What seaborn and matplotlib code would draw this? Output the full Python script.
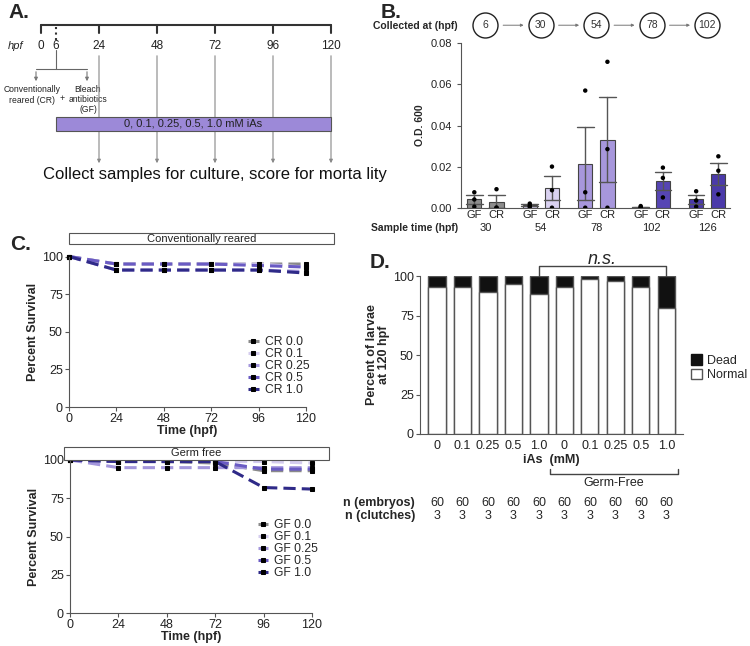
import pandas as pd
import matplotlib.pyplot as plt
import seaborn as sns
from matplotlib.patches import Rectangle, Patch
from matplotlib.container import BarContainer

W, H = 750, 646

# ---- A: experiment schedule (hpf) ----
tick_hpf = [0, 6, 24, 48, 72, 96, 120]
collect_hpf = [24, 48, 72, 96, 120]
split_hpf = 6
dose_text = "0, 0.1, 0.25, 0.5, 1.0 mM iAs"

# ---- B: O.D. 600 of cultures (3 replicates) ----
sample_times = ["30", "54", "78", "102", "126"]
collected_at = ["6", "30", "54", "78", "102"]
od_gf = [[0.0075, 0.0040, 0.0005], [0.0020, 0.0010, 0.0003], [0.0570, 0.0075, 0.0],
         [0.0008, 0.0002, 0.0], [0.0080, 0.0035, 0.0005]]
od_cr = [[0.0090, 0.0, 0.0], [0.0200, 0.0085, 0.0], [0.0710, 0.0285, 0.0],
         [0.0195, 0.0145, 0.0050], [0.0250, 0.0180, 0.0065]]
od_colors = ["#8d8d8d", "#d9d1f0", "#a797dc", "#5645b4", "#4b3aaa"]

# ---- C: survival curves ----
hours = [0, 24, 48, 72, 96, 120]
doses = ["0.0", "0.1", "0.25", "0.5", "1.0"]
cr_surv = [[100, 95, 95, 95, 95, 95],
           [100, 95, 95, 95, 95, 93],
           [100, 91, 91, 91, 91, 90],
           [100, 95, 95, 95, 94, 93],
           [100, 91, 91, 91, 91, 89]]
gf_surv = [[100, 99, 99, 98, 93, 93],
           [100, 99, 99, 99, 99, 98],
           [100, 95, 95, 95, 95, 95],
           [100, 99, 99, 99, 94, 94],
           [100, 99, 99, 99, 82, 81]]
dose_colors = ["#8a8a8a", "#d4ccee", "#a497dc", "#6a5bc4", "#2f2a88"]

# ---- D: outcome at 120 hpf ----
d_doses = ["0", "0.1", "0.25", "0.5", "1.0", "0", "0.1", "0.25", "0.5", "1.0"]
d_groups = ["CR"] * 5 + ["GF"] * 5
pct_normal = [93.3, 93.3, 90.0, 95.0, 88.3, 93.3, 98.3, 96.7, 93.3, 80.0]
n_embryos = [60] * 10
n_clutches = [3] * 10

sns.set_style("ticks")
plt.rcParams["font.family"] = ["Liberation Sans", "DejaVu Sans"]
plt.rcParams["axes.edgecolor"] = "#555555"
plt.rcParams["xtick.color"] = "#555555"
plt.rcParams["ytick.color"] = "#555555"
plt.rcParams["xtick.labelcolor"] = "#222222"
plt.rcParams["ytick.labelcolor"] = "#222222"

fig = plt.figure(figsize=(7.5, 6.46), dpi=100)


def px_axes(l, t, r, b):
    return fig.add_axes([l / W, 1 - b / H, (r - l) / W, (b - t) / H])


def fx(x):
    return x / W


def fy(y):
    return 1 - y / H


# panel letters
for lab, x, y in [("A.", 8, 12), ("B.", 381, 12), ("C.", 10, 245), ("D.", 370, 262)]:
    fig.text(fx(x), fy(y), lab, fontsize=15, fontweight="bold", va="center")

# ================= A =================
axA = px_axes(0, 0, 380, 200)
axA.axis("off")
k = (331 - 41) / 120
axA.set_xlim(-41 / k, (380 - 41) / k)
axA.set_ylim(200, 0)
line_c = "#333333"
axA.plot([tick_hpf[0], tick_hpf[-1]], [25, 25], color=line_c, lw=1.5)
for t in tick_hpf:
    if t == split_hpf:
        axA.plot([t, t], [27, 42], color=line_c, lw=1.5, ls=":")
    else:
        axA.plot([t, t], [25, 33], color=line_c, lw=1.5)
    axA.text(t, 46, str(t), ha="center", va="center", fontsize=8.5, color="#222")
axA.text(-41 / k + 8 / k, 46, "hpf", ha="left", va="center", fontsize=8, style="italic")
# split into CR / GF
xl, xr = -5 / k, 46 / k
axA.plot([split_hpf, split_hpf], [50, 69], color="#666", lw=0.8)
axA.plot([xl, xr], [69, 69], color="#666", lw=0.8)
for xx in (xl, xr):
    axA.annotate("", xy=(xx, 84), xytext=(xx, 69),
                 arrowprops=dict(arrowstyle="-|>", color="#777", lw=0.8, mutation_scale=5))
axA.text(xl - 4 / k, 85, "Conventionally\nreared (CR)", ha="center", va="top", fontsize=6.2,
         linespacing=1.25, color="#222")
axA.text(xr + 1 / k, 85, "Bleach\nantibiotics\n(GF)", ha="center", va="top", fontsize=6.2,
         linespacing=1.15, color="#222")
axA.text(21 / k, 99, "+", ha="center", va="center", fontsize=6.2, color="#222")
for t in collect_hpf:
    axA.annotate("", xy=(t, 166), xytext=(t, 53),
                 arrowprops=dict(arrowstyle="-|>", color="#888", lw=0.8, mutation_scale=5))
axA.add_patch(Rectangle((split_hpf, 117), tick_hpf[-1] - split_hpf, 14, fc="#9c89d8",
                        ec="#555", lw=0.8, zorder=5))
axA.text((split_hpf + tick_hpf[-1]) / 2, 124, dose_text, ha="center", va="center",
         fontsize=8, color="#222", zorder=6)
axA.text(72, 174, "Collect samples for culture, score for morta lity", ha="center",
         va="center", fontsize=12, color="#111")

# ================= B =================
rows = []
for t, g, c in zip(sample_times, od_gf, od_cr):
    rows += [(t, "GF", v) for v in g]
    rows += [(t, "CR", v) for v in c]
od_df = pd.DataFrame(rows, columns=["time", "cond", "od"])

axB = px_axes(461, 43.3, 730, 207.7)
sns.barplot(data=od_df, x="time", y="od", hue="cond", order=sample_times,
            hue_order=["GF", "CR"], errorbar="se", capsize=0.6, gap=0.36,
            palette=["#888", "#888"], edgecolor="#444", linewidth=0.8,
            err_kws={"color": "#555", "linewidth": 1}, legend=False, ax=axB)
for cont in axB.containers:
    if isinstance(cont, BarContainer):
        for j, bar in enumerate(cont):
            bar.set_facecolor(od_colors[j])
sns.stripplot(data=od_df, x="time", y="od", hue="cond", order=sample_times,
              hue_order=["GF", "CR"], dodge=True, jitter=False, palette=["k", "k"],
              size=3.2, legend=False, ax=axB, zorder=5)
centers = sorted(b.get_x() + b.get_width() / 2 for cont in axB.containers
                 if isinstance(cont, BarContainer) for b in cont)
axB.set_xticks(centers, labels=["GF", "CR"] * len(sample_times))
axB.set_xticks(range(len(sample_times)), labels=sample_times, minor=True)
axB.tick_params(axis="x", which="major", length=0, pad=1.5, labelsize=8)
axB.tick_params(axis="x", which="minor", length=0, pad=11, labelsize=8)
axB.set_xlim(-0.44, 4.41)
axB.set_ylim(0, 0.08)
axB.set_yticks([0, 0.02, 0.04, 0.06, 0.08], labels=["0.00", "0.02", "0.04", "0.06", "0.08"])
axB.tick_params(axis="y", labelsize=8, length=3)
axB.set_xlabel("")
axB.set_ylabel("O.D. 600", fontsize=7.5, fontweight="bold", labelpad=4)
sns.despine(ax=axB)
xt = axB.get_xaxis_transform()
axB.plot(range(len(collected_at)), [1.11] * len(collected_at), "o", ms=18, mfc="white",
         mec="#222", mew=1, transform=xt, clip_on=False)
for i, lab in enumerate(collected_at):
    axB.text(i, 1.11, lab, transform=xt, ha="center", va="center", fontsize=7.5, color="#333")
    if i < len(collected_at) - 1:
        axB.annotate("", xy=(i + 0.74, 1.11), xytext=(i + 0.27, 1.11),
                     xycoords=xt, textcoords=xt,
                     arrowprops=dict(arrowstyle="-|>", color="#777", lw=0.7, mutation_scale=4))
fig.text(fx(458), fy(26), "Collected at (hpf)", ha="right", va="center", fontsize=7.5,
         fontweight="bold")
fig.text(fx(458), fy(228), "Sample time (hpf)", ha="right", va="center", fontsize=7.5,
         fontweight="bold")


# ================= C =================
def survival_panel(rect, box, title, prefix, series, anchor):
    ax = px_axes(*rect)
    rows = []
    for d, vals in zip(doses, series):
        rows += [(h, v, f"{prefix} {d}") for h, v in zip(hours, vals)]
    df = pd.DataFrame(rows, columns=["time", "surv", "group"])
    names = [f"{prefix} {d}" for d in doses]
    sns.lineplot(data=df, x="time", y="surv", hue="group", hue_order=names,
                 palette=dose_colors, linestyle=(0, (4, 2)), linewidth=2.2, marker="s",
                 markersize=3, legend=False, ax=ax, clip_on=False)
    for ln in ax.lines:
        ln.set_markerfacecolor("k")
        ln.set_markeredgecolor("k")
    ax.set_xlim(0, 120)
    ax.set_ylim(0, 100)
    ax.set_xticks(hours)
    ax.set_yticks([0, 25, 50, 75, 100])
    ax.tick_params(labelsize=9, length=3, pad=1.5)
    ax.set_xlabel("Time (hpf)", fontsize=9, fontweight="bold", labelpad=0)
    ax.set_ylabel("Percent Survival", fontsize=9, fontweight="bold", labelpad=2)
    sns.despine(ax=ax)
    ax.legend(handles=ax.lines[:5], labels=names, loc="lower left", bbox_to_anchor=anchor,
              frameon=False, fontsize=8.7, handlelength=0.9, handletextpad=0.5,
              labelspacing=0.0, borderpad=0, borderaxespad=0)
    l, t, r, b = box
    fig.add_artist(Rectangle((fx(l), fy(b)), (r - l) / W, (b - t) / H,
                             transform=fig.transFigure, fc="white", ec="#555", lw=0.8))
    fig.text(fx((l + r) / 2), fy((t + b) / 2), title, ha="center", va="center", fontsize=8,
             color="#222")
    return ax


survival_panel((69, 256.5, 306, 407), (69, 233, 334, 244), "Conventionally reared", "CR",
               cr_surv, (0.755, 0.07))
survival_panel((70, 460, 312, 613), (64, 447, 329, 460), "Germ free", "GF",
               gf_surv, (0.775, 0.22))

# ================= D =================
cond_ids = [f"{g} {d}" for g, d in zip(d_groups, d_doses)]
axD = px_axes(420, 276, 683, 434)
sns.barplot(x=cond_ids, y=[100] * len(cond_ids), color="#111111", width=0.67,
            edgecolor="#555", linewidth=1, ax=axD)
sns.barplot(x=cond_ids, y=pct_normal, color="white", width=0.67, edgecolor="#555",
            linewidth=1, ax=axD)
axD.set_xticks(range(len(cond_ids)), labels=d_doses)
axD.set_xlim(-0.667, 9.65)
axD.set_ylim(0, 100)
axD.set_yticks([0, 25, 50, 75, 100])
axD.tick_params(axis="x", length=0, pad=4, labelsize=9)
axD.tick_params(axis="y", length=3, pad=1.5, labelsize=9)
axD.set_xlabel("iAs  (mM)", fontsize=9, fontweight="bold", labelpad=2)
axD.set_ylabel("Percent of larvae\nat 120 hpf", fontsize=9, fontweight="bold", labelpad=2,
               linespacing=0.95)
sns.despine(ax=axD)
axD.legend(handles=[Patch(fc="#111", ec="#111"), Patch(fc="white", ec="#555")],
           labels=["Dead", "Normal"], loc="center left", bbox_to_anchor=(1.03, 0.42),
           frameon=False, fontsize=9, handlelength=0.9, handleheight=0.9,
           handletextpad=0.4, labelspacing=0.15, borderpad=0, borderaxespad=0)
xtD = axD.get_xaxis_transform()
gf_idx = [i for i, g in enumerate(d_groups) if g == "GF"]
i0, i1 = gf_idx[0] - 1, gf_idx[-1]
axD.plot([i0, i0, i1, i1], [1.0, 1.065, 1.065, 1.0], color="#444", lw=1, transform=xtD,
         clip_on=False)
axD.text((i0 + i1) / 2, 1.105, "n.s.", transform=xtD, ha="center", va="center",
         fontsize=13, style="italic")
gl, gr = gf_idx[0] - 0.55, gf_idx[-1] + 0.45
axD.plot([gl, gl, gr, gr], [-0.22, -0.253, -0.253, -0.22], color="#444", lw=1,
         transform=xtD, clip_on=False)
axD.text((gl + gr) / 2, -0.31, "Germ-Free", transform=xtD, ha="center", va="center",
         fontsize=9, color="#222")
for i in range(len(cond_ids)):
    axD.text(i, -0.437, str(n_embryos[i]), transform=xtD, ha="center", va="center", fontsize=9)
    axD.text(i, -0.519, str(n_clutches[i]), transform=xtD, ha="center", va="center", fontsize=9)
fig.text(fx(415), fy(503), "n (embryos)", ha="right", va="center", fontsize=9, fontweight="bold")
fig.text(fx(415), fy(516), "n (clutches)", ha="right", va="center", fontsize=9, fontweight="bold")

fig.savefig("out.png", dpi=100)
